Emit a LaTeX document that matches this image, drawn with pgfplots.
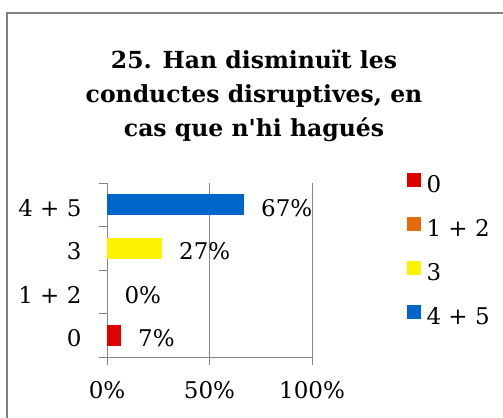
\documentclass[border=0pt]{standalone}
\usepackage{pgfplots}
\pgfplotsset{compat=1.18}
\usepackage{fontspec}
\setmainfont{DejaVu Serif}
\definecolor{cred}{RGB}{224,0,0}
\definecolor{corange}{RGB}{228,108,10}
\definecolor{cyellow}{RGB}{255,242,0}
\definecolor{cblue}{RGB}{0,102,204}
\definecolor{axgray}{RGB}{134,134,134}
\definecolor{framegray}{RGB}{128,128,128}
\begin{document}
\begin{tikzpicture}
\useasboundingbox (0,0) rectangle (503bp,418bp);
\clip (0,0) rectangle (503bp,418bp);
\draw[framegray, line width=1.4bp] (7bp,-5bp) -- (7bp,405bp) -- (510bp,405bp);
\node[font=\fontsize{23.5bp}{28bp}\selectfont\bfseries, anchor=base] at (254bp,349bp) {25. Han disminuït les};
\node[font=\fontsize{23.5bp}{28bp}\selectfont\bfseries, anchor=base] at (254bp,315bp) {conductes disruptives, en};
\node[font=\fontsize{23.5bp}{28bp}\selectfont\bfseries, anchor=base] at (254bp,281bp) {cas que n\textquotesingle hi hagués};
\begin{axis}[
  at={(107bp,61bp)}, anchor=south west,
  scale only axis, width=205bp, height=174bp,
  xmin=0, xmax=100, ymin=-0.5, ymax=3.5,
  xbar, bar width=21bp, bar shift=0pt,
  axis x line*=bottom, axis y line*=left,
  axis line style={-, draw=axgray, line width=0.8bp},
  xtick={0,50,100}, xticklabels={0\%,50\%,100\%},
  ytick={-0.5,0.5,1.5,2.5,3.5}, y tick label as interval,
  yticklabels={0,1 + 2,3,4 + 5},
  tick align=outside, major tick length=8bp,
  tick style={draw=axgray, line width=0.8bp},
  xmajorgrids, grid style={draw=axgray, line width=0.8bp},
  ticklabel style={font=\fontsize{23bp}{27bp}\selectfont},
  xticklabel style={yshift=-13bp},
  yticklabel style={xshift=-14bp, yshift=-3bp},
  /pgf/number format/assume math mode=true,
  nodes near coords={\pgfmathprintnumber[fixed,precision=0]{\pgfplotspointmeta}\%},
  point meta=x,
  every node near coord/.append style={font=\fontsize{23bp}{27bp}\selectfont, anchor=west, xshift=14bp, yshift=-3bp, color=black},
  legend style={draw=none, fill=none, at={(axis description cs:1.46,1.06)}, anchor=north west,
    font=\fontsize{23bp}{27bp}\selectfont, row sep=19bp, inner sep=0pt,
    nodes={inner sep=0pt, text height=17bp, text depth=5bp}},
  legend cell align=left,
  legend image code/.code={\fill[#1] (0bp,0bp) rectangle (14bp,14bp); \path (20bp,0bp);},
]
\addplot[fill=cred, draw=none] coordinates {(6.667,0)};
\addplot[fill=corange, draw=none] coordinates {(0,1)};
\addplot[fill=cyellow, draw=none] coordinates {(26.667,2)};
\addplot[fill=cblue, draw=none] coordinates {(66.667,3)};
\legend{0,1 + 2,3,4 + 5}
\end{axis}
\end{tikzpicture}
\end{document}
